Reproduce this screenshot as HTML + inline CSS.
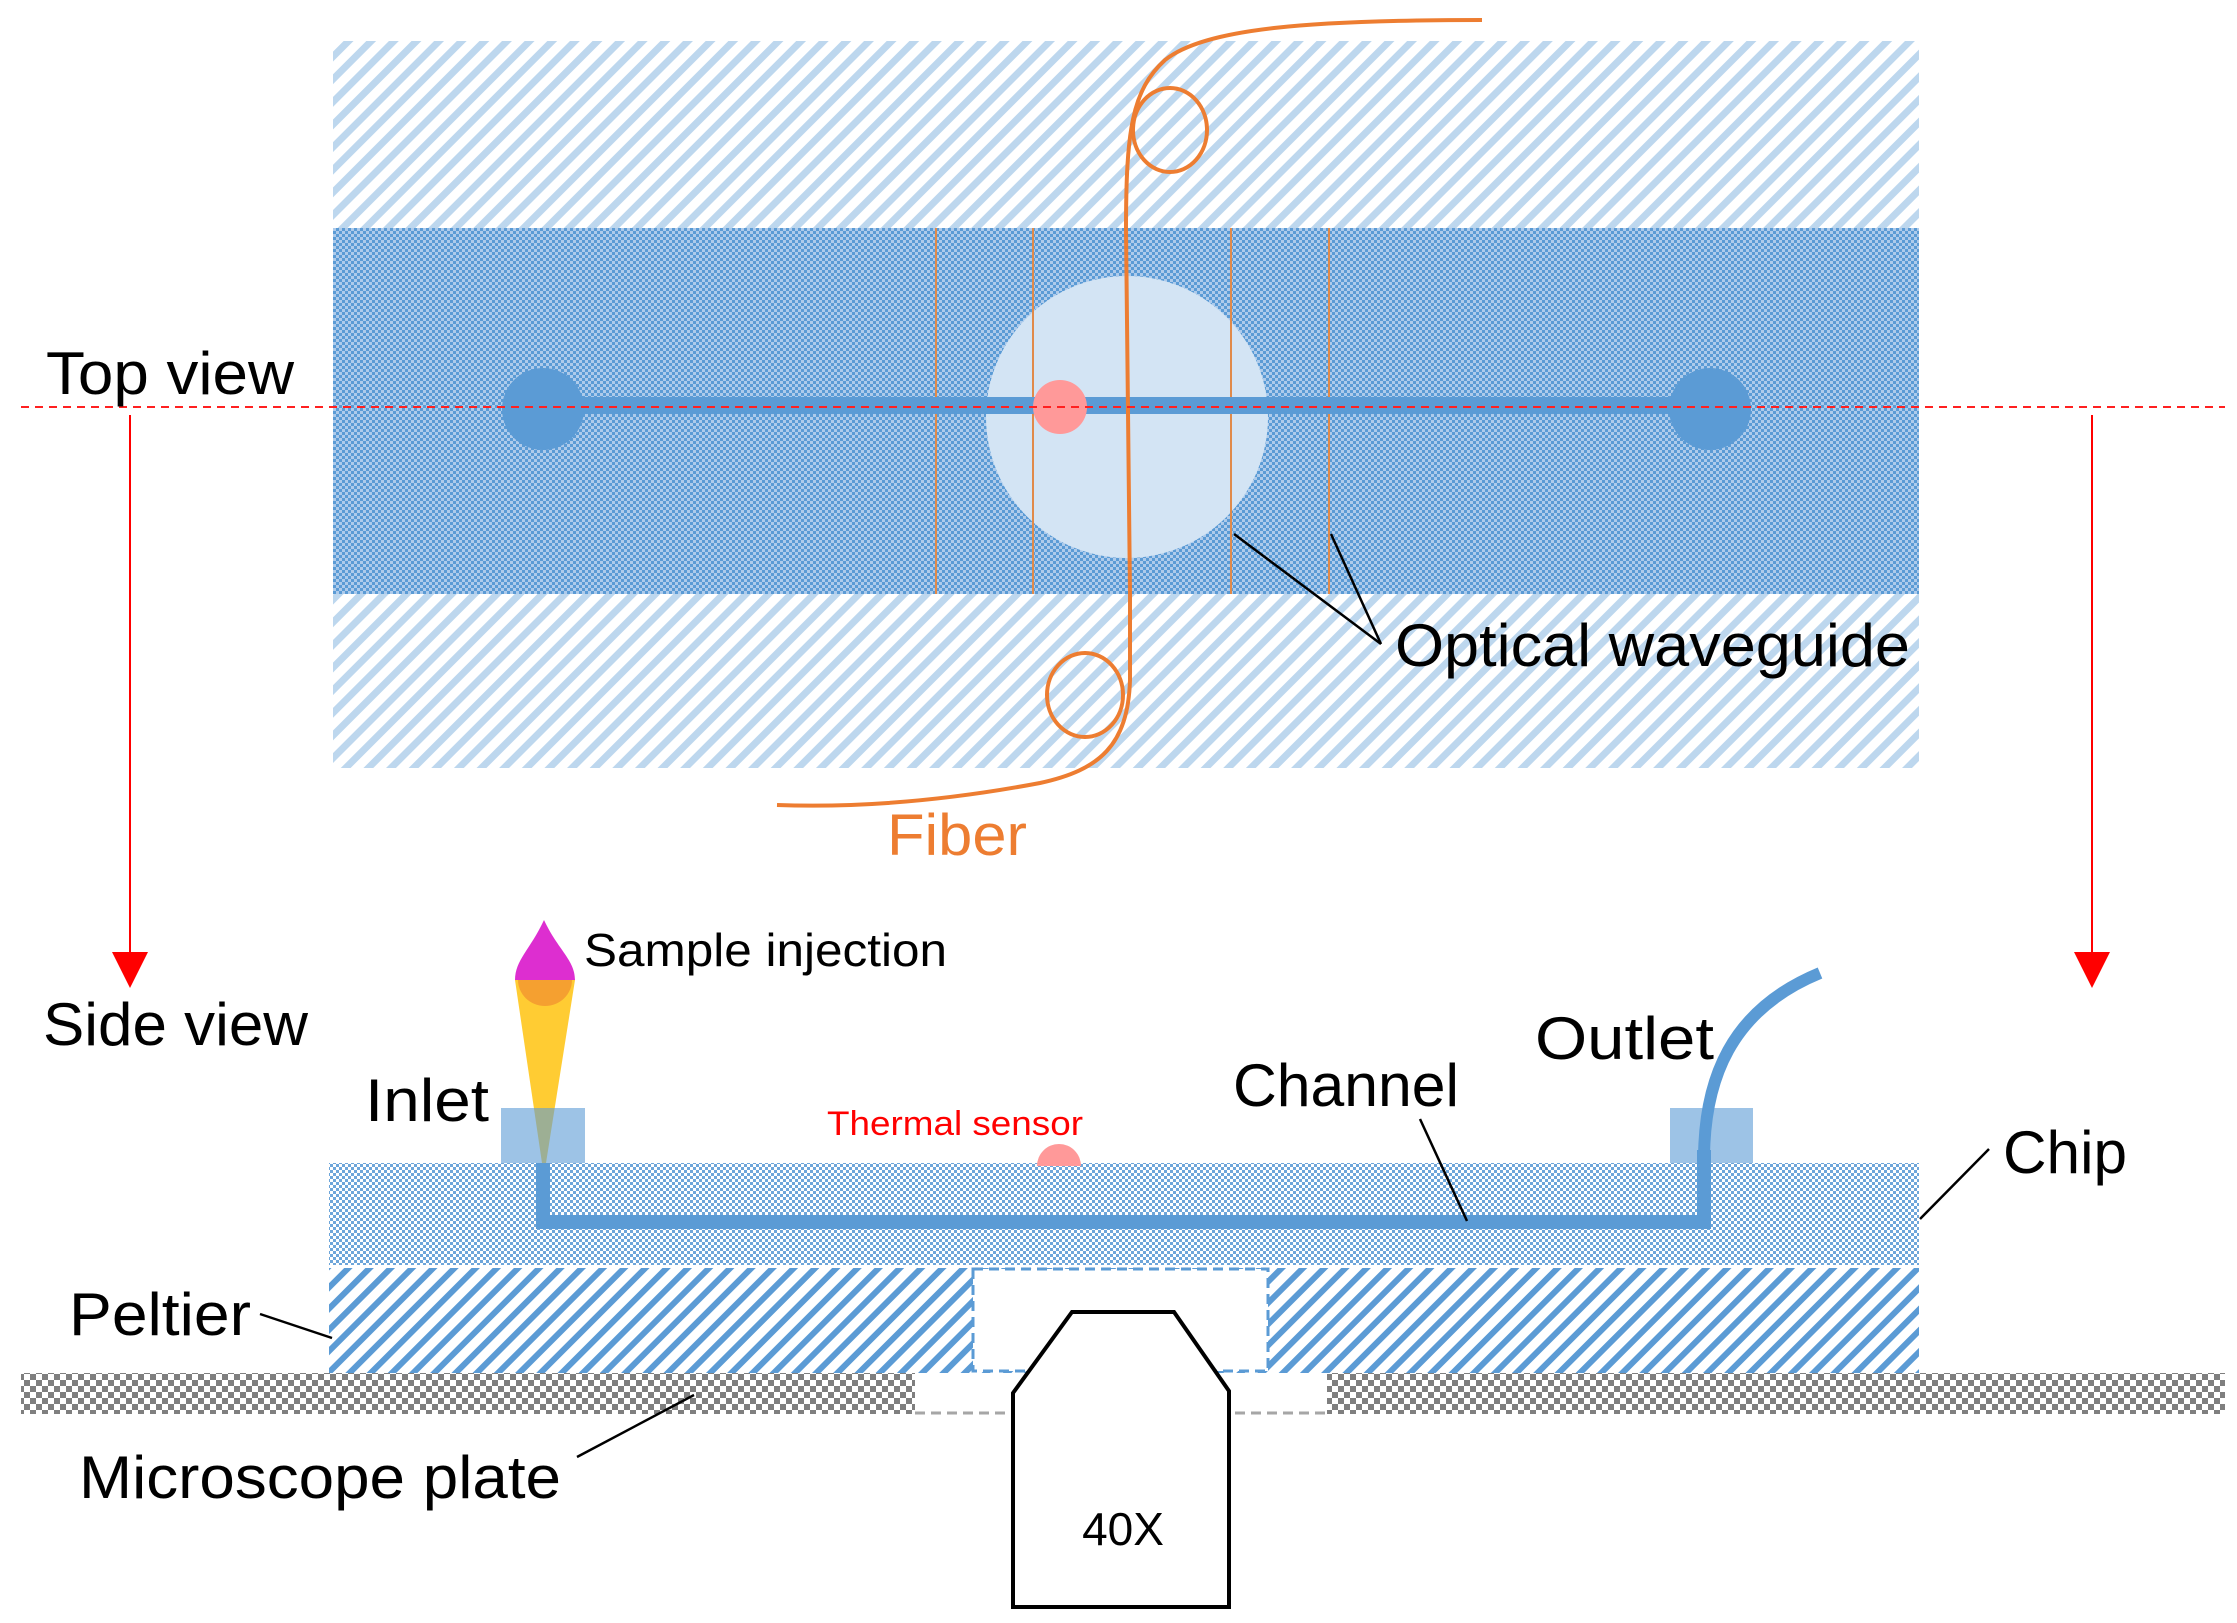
<!DOCTYPE html>
<html><head><meta charset="utf-8"><style>html,body{margin:0;padding:0;background:#fff}svg{display:block}text{font-family:"Liberation Sans",sans-serif}</style></head>
<body>
<svg width="2237" height="1623" viewBox="0 0 2237 1623" xmlns="http://www.w3.org/2000/svg">
<defs>
<pattern id="lh" patternUnits="userSpaceOnUse" width="16" height="16" patternTransform="rotate(45)">
<rect width="16" height="16" fill="#fff"/><rect width="7" height="16" fill="#bdd7ee"/></pattern>
<pattern id="ph" patternUnits="userSpaceOnUse" width="15" height="15" patternTransform="rotate(45)">
<rect width="15" height="15" fill="#fff"/><rect width="6" height="15" fill="#5b9bd5"/></pattern>
<pattern id="ck" patternUnits="userSpaceOnUse" width="12" height="12">
<rect width="12" height="12" fill="#fff"/><rect width="6" height="6" fill="#7f7f7f"/><rect x="6" y="6" width="6" height="6" fill="#7f7f7f"/></pattern>
<pattern id="bd" patternUnits="userSpaceOnUse" width="6" height="6">
<rect width="6" height="6" fill="#aecbeb"/><rect width="3" height="3" fill="#5b9bd5"/><rect x="3" y="3" width="3" height="3" fill="#5b9bd5"/></pattern>
<pattern id="cp" patternUnits="userSpaceOnUse" width="6" height="6">
<rect width="6" height="6" fill="#fff"/><rect width="3" height="3" fill="#6ea6da"/><rect x="3" y="3" width="3" height="3" fill="#6ea6da"/></pattern>
</defs>

<!-- TOP VIEW -->
<rect x="333" y="41" width="1586" height="187" fill="url(#lh)"/>
<rect x="333" y="594" width="1586" height="174" fill="url(#lh)"/>
<rect x="333" y="228" width="1586" height="366" fill="url(#bd)"/>
<circle cx="1127" cy="417" r="141" fill="#d3e4f4"/>
<g stroke="#e08a4a" stroke-width="2">
<line x1="936" y1="228" x2="936" y2="594"/><line x1="1033" y1="228" x2="1033" y2="594"/>
<line x1="1231" y1="228" x2="1231" y2="594"/><line x1="1329" y1="228" x2="1329" y2="594"/>
</g>
<rect x="544" y="397" width="1166" height="17" fill="#5b9bd5"/>
<circle cx="543" cy="409" r="41" fill="#5b9bd5"/>
<circle cx="1710" cy="409" r="41" fill="#5b9bd5"/>
<circle cx="1060" cy="407" r="27" fill="#ff9999"/>
<g fill="none" stroke="#ed7d31" stroke-width="4">
<path d="M1482,20 C1310,20 1205,28 1165,60 C1132,90 1126,130 1126,230 L1130,594 L1130,680 C1128,745 1100,770 1040,783 C950,800 860,808 777,805"/>
<ellipse cx="1170" cy="130" rx="37" ry="42"/>
<ellipse cx="1085" cy="695" rx="38" ry="42"/>
</g>
<line x1="21" y1="407" x2="2225" y2="407" stroke="#ff2020" stroke-width="2" stroke-dasharray="8,6"/>
<g stroke="#000" stroke-width="2.5">
<line x1="1234" y1="534" x2="1381" y2="644"/><line x1="1331" y1="534" x2="1381" y2="644"/>
</g>
<text x="46" y="394" font-size="60" textLength="248" lengthAdjust="spacingAndGlyphs">Top view</text>
<text x="1395" y="666" font-size="60" textLength="515" lengthAdjust="spacingAndGlyphs">Optical waveguide</text>
<text x="887" y="855" font-size="58" fill="#ed7d31" textLength="140" lengthAdjust="spacingAndGlyphs">Fiber</text>

<!-- arrows -->
<g stroke="#ff0000" stroke-width="2"><line x1="130" y1="415" x2="130" y2="960"/><line x1="2092" y1="415" x2="2092" y2="960"/></g>
<polygon points="112,952 148,952 130,988" fill="#ff0000"/>
<polygon points="2074,952 2110,952 2092,988" fill="#ff0000"/>

<!-- SIDE VIEW -->
<rect x="329" y="1163" width="1590" height="102" fill="url(#cp)"/>
<rect x="329" y="1268" width="1590" height="105" fill="url(#ph)"/>
<rect x="973" y="1269" width="295" height="102" fill="#fff" stroke="#5b9bd5" stroke-width="3" stroke-dasharray="10,6"/>
<rect x="21" y="1373" width="2204" height="41" fill="url(#ck)"/>
<rect x="915" y="1373" width="412" height="41" fill="#fff"/>
<line x1="915" y1="1413" x2="1327" y2="1413" stroke="#a6a6a6" stroke-width="3" stroke-dasharray="10,6"/>
<path d="M1072,1312 L1174,1312 L1229,1391 L1229,1607 L1013,1607 L1013,1393 Z" fill="#fff" stroke="#000" stroke-width="4"/>
<text x="1123" y="1545" font-size="46" text-anchor="middle">40X</text>

<!-- channel -->
<path d="M543,1163 L543,1222 L1704,1222 L1704,1150" fill="none" stroke="#5b9bd5" stroke-width="14"/>
<path d="M1704,1160 C1704,1080 1730,1010 1820,973" fill="none" stroke="#5b9bd5" stroke-width="12"/>
<!-- pipette -->
<path d="M515,980 L575,980 L546,1163 L542,1163 Z" fill="#ffcc33"/>
<path d="M544,920 C530,950 515,960 515,980 L575,980 C575,960 558,950 544,920 Z" fill="#dd2ed0"/>
<path d="M518,980 A26,25 0 0 0 572,980 Z" fill="#f5a030"/>
<rect x="501" y="1108" width="84" height="55" fill="#5b9bd5" fill-opacity="0.6"/>
<rect x="1670" y="1108" width="83" height="55" fill="#5b9bd5" fill-opacity="0.6"/>
<path d="M1037,1166 A22,22 0 0 1 1081,1166 Z" fill="#ff9999"/>

<g stroke="#000" stroke-width="2.5">
<line x1="1420" y1="1119" x2="1467" y2="1221"/>
<line x1="1989" y1="1149" x2="1920" y2="1219"/>
<line x1="260" y1="1314" x2="332" y2="1338"/>
<line x1="577" y1="1457" x2="694" y2="1395"/>
</g>
<text x="43" y="1045" font-size="60" textLength="265" lengthAdjust="spacingAndGlyphs">Side view</text>
<text x="584" y="966" font-size="46" textLength="363" lengthAdjust="spacingAndGlyphs">Sample injection</text>
<text x="365" y="1121" font-size="60" textLength="124" lengthAdjust="spacingAndGlyphs">Inlet</text>
<text x="827" y="1135" font-size="34" fill="#ff0000" textLength="256" lengthAdjust="spacingAndGlyphs">Thermal sensor</text>
<text x="1233" y="1106" font-size="60" textLength="226" lengthAdjust="spacingAndGlyphs">Channel</text>
<text x="1535" y="1059" font-size="60" textLength="179" lengthAdjust="spacingAndGlyphs">Outlet</text>
<text x="2003" y="1173" font-size="60" textLength="124" lengthAdjust="spacingAndGlyphs">Chip</text>
<text x="69" y="1335" font-size="60" textLength="182" lengthAdjust="spacingAndGlyphs">Peltier</text>
<text x="79" y="1498" font-size="60" textLength="482" lengthAdjust="spacingAndGlyphs">Microscope plate</text>
</svg>
</body></html>
